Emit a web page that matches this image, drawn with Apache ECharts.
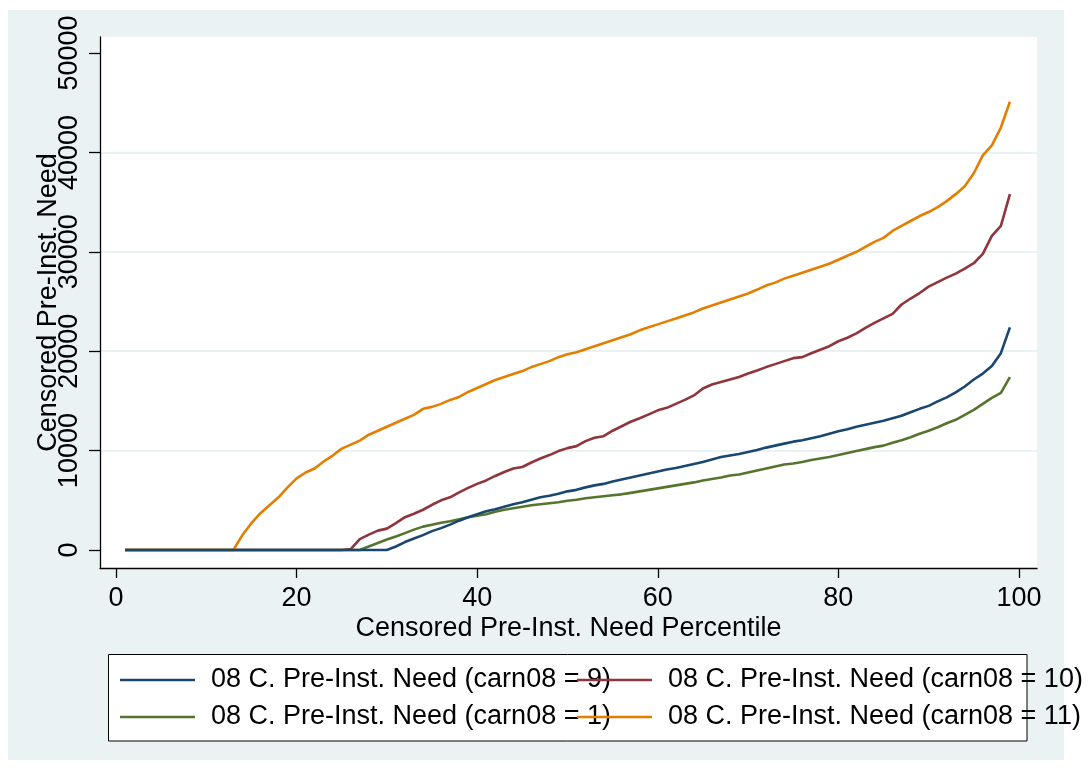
<!DOCTYPE html>
<html>
<head>
<meta charset="utf-8">
<script src="https://cdn.jsdelivr.net/npm/echarts@6/dist/echarts.min.js"></script>
<style>
html,body{margin:0;padding:0;background:#fff;}
#c{width:1088px;height:772px;}
</style>
</head>
<body>
<div id="c"></div>
<script>
const percentiles = Array.from({length: 99}, (_, i) => i + 1);

// carn08 = 9 (navy)
const need9 = [
  0,0,0,0,0,0,0,0,0,0, 0,0,0,0,0,0,0,0,0,0, 0,0,0,0,0,0,0,0,0,0,
  350,800,1150,1500,1900,2200,2550,2950,3300,3600,
  3900,4100,4350,4600,4800,5050,5300,5450,5650,5900,
  6050,6300,6500,6650,6900,7100,7300,7500,7700,7900,
  8100,8250,8450,8650,8850,9100,9350,9500,9650,9850,
  10050,10300,10500,10700,10900,11050,11250,11450,11700,11950,
  12150,12400,12600,12800,13000,13250,13500,13850,14200,14500,
  14950,15350,15850,16450,17150,17750,18500,19800,22400
];
// carn08 = 10 (maroon)
const need10 = [
  0,0,0,0,0,0,0,0,0,0, 0,0,0,0,0,0,0,0,0,0, 0,0,0,0,0,
  100,1100,1550,1950,2150,
  2700,3300,3650,4050,4550,5000,5300,5800,6250,6650,
  7000,7450,7850,8200,8350,8800,9200,9550,9950,10250,
  10450,10950,11300,11450,12000,12450,12900,13250,13650,14050,
  14300,14700,15100,15550,16250,16650,16900,17150,17400,17750,
  18050,18400,18700,19000,19300,19400,19800,20150,20500,21000,
  21350,21800,22350,22850,23300,23750,24700,25300,25850,26500,
  26950,27400,27800,28300,28850,29800,31600,32600,35800
];
// carn08 = 1 (green)
const need1 = [
  0,0,0,0,0,0,0,0,0,0, 0,0,0,0,0,0,0,0,0,0, 0,0,0,0,0,0,0,
  350,700,1050,
  1350,1700,2050,2350,2550,2750,2900,3100,3300,3450,
  3600,3850,4050,4200,4350,4500,4600,4700,4800,4950,
  5050,5200,5300,5400,5500,5600,5750,5900,6050,6200,
  6350,6500,6650,6800,7000,7150,7300,7500,7600,7800,
  8000,8200,8400,8600,8700,8850,9050,9200,9350,9550,
  9750,9950,10150,10350,10500,10800,11050,11350,11700,12000,
  12350,12750,13100,13600,14100,14700,15300,15800,17400
];
// carn08 = 11 (orange)
const need11 = [
  0,0,0,0,0,0,0,0,0,0, 0,0,0,
  1500,2700,3700,4500,5300,6300,7200,
  7800,8200,8900,9500,10200,10600,11000,11600,12000,12400,
  12800,13200,13600,14200,14400,14700,15100,15400,15900,16300,
  16700,17100,17400,17700,18000,18400,18700,19000,19400,19700,
  19900,20200,20500,20800,21100,21400,21700,22100,22400,22700,
  23000,23300,23600,23900,24300,24600,24900,25200,25500,25800,
  26200,26600,26900,27300,27600,27900,28200,28500,28800,29200,
  29600,30000,30500,31000,31400,32100,32600,33100,33600,34000,
  34500,35100,35800,36600,37900,39700,40700,42500,45100
];

const xTicks = [0, 20, 40, 60, 80, 100];
const yTicks = [0, 10000, 20000, 30000, 40000, 50000];

const seriesNames = [
  '08 C. Pre-Inst. Need (carn08 = 9)',
  '08 C. Pre-Inst. Need (carn08 = 10)',
  '08 C. Pre-Inst. Need (carn08 = 1)',
  '08 C. Pre-Inst. Need (carn08 = 11)'
];
const seriesData = [need9, need10, need1, need11];
const colors = ['#1a476f', '#90353b', '#55752f', '#e37e00'];

const FONT = 'Liberation Sans, Arial, Helvetica, sans-serif';
const chart = echarts.init(document.getElementById('c'), null, {renderer: 'canvas'});

const series = seriesData.map((d, i) => ({
  name: seriesNames[i],
  type: 'line',
  data: percentiles.map((p, j) => [p, d[j]]),
  symbol: 'none',
  lineStyle: {color: colors[i], width: 2.6},
  itemStyle: {color: colors[i]},
  animation: false,
  z: 3 + (i === 0 ? 2 : 0)
}));

const legendCommon = {
  orient: 'horizontal',
  left: 120,
  width: 1000,
  itemWidth: 75,
  itemHeight: 14,
  itemGap: -34,
  icon: 'path://M0,6 L75,6 L75,8.4 L0,8.4 Z',
  selectedMode: false,
  textStyle: {fontFamily: FONT, fontSize: 27, color: '#000', lineHeight: 30, padding: [0,0,0,11]},
  padding: 0
};

chart.setOption({
  backgroundColor: '#ffffff',
  animation: false,
  color: colors,
  graphic: [
    {type: 'rect', z: -10, silent: true, shape: {x: 8, y: 10, width: 1056, height: 750}, style: {fill: '#eaf2f3'}},
    {type: 'rect', z: -5, silent: true, shape: {x: 108.5, y: 654.5, width: 918.5, height: 86.5}, style: {fill: '#ffffff', stroke: '#000', lineWidth: 1}}
  ],
  grid: {left: 100, top: 37, right: 51, bottom: 204, show: true, backgroundColor: '#ffffff', borderWidth: 0, containLabel: false},
  legend: [
    Object.assign({}, legendCommon, {top: 665, data: [seriesNames[0], seriesNames[1]]}),
    Object.assign({}, legendCommon, {top: 702, data: [seriesNames[2], seriesNames[3]]})
  ],
  xAxis: {
    type: 'value',
    min: -1.77,
    max: 102,
    name: 'Censored Pre-Inst. Need Percentile',
    nameLocation: 'middle',
    nameGap: 47,
    nameMoveOverlap: false,
    nameTextStyle: {fontFamily: FONT, fontSize: 27, color: '#000'},
    axisLine: {show: true, onZero: false, lineStyle: {color: '#000', width: 1.3}},
    axisTick: {show: true, length: 10, customValues: xTicks, lineStyle: {color: '#000', width: 1.3}},
    axisLabel: {customValues: xTicks, formatter: v => String(v), fontFamily: FONT, fontSize: 27, color: '#000', margin: 17},
    splitLine: {show: false}
  },
  yAxis: {
    type: 'value',
    min: -1811,
    max: 51610,
    splitNumber: 5,
    name: 'Censored Pre-Inst. Need',
    nameLocation: 'middle',
    nameRotate: 90,
    nameGap: 38,
    nameMoveOverlap: false,
    nameTextStyle: {fontFamily: FONT, fontSize: 27, color: '#000'},
    axisLine: {show: true, onZero: false, lineStyle: {color: '#000', width: 1.3}},
    axisTick: {show: true, length: 11, customValues: yTicks, lineStyle: {color: '#000', width: 1.3}},
    axisLabel: {customValues: yTicks, formatter: v => String(v), rotate: 90, fontFamily: FONT, fontSize: 27, color: '#000', margin: 17},
    splitLine: {show: true, showMinLine: false, showMaxLine: false, lineStyle: {color: '#eaf2f3', width: 2}}
  },
  series: series
});
</script>
</body>
</html>
